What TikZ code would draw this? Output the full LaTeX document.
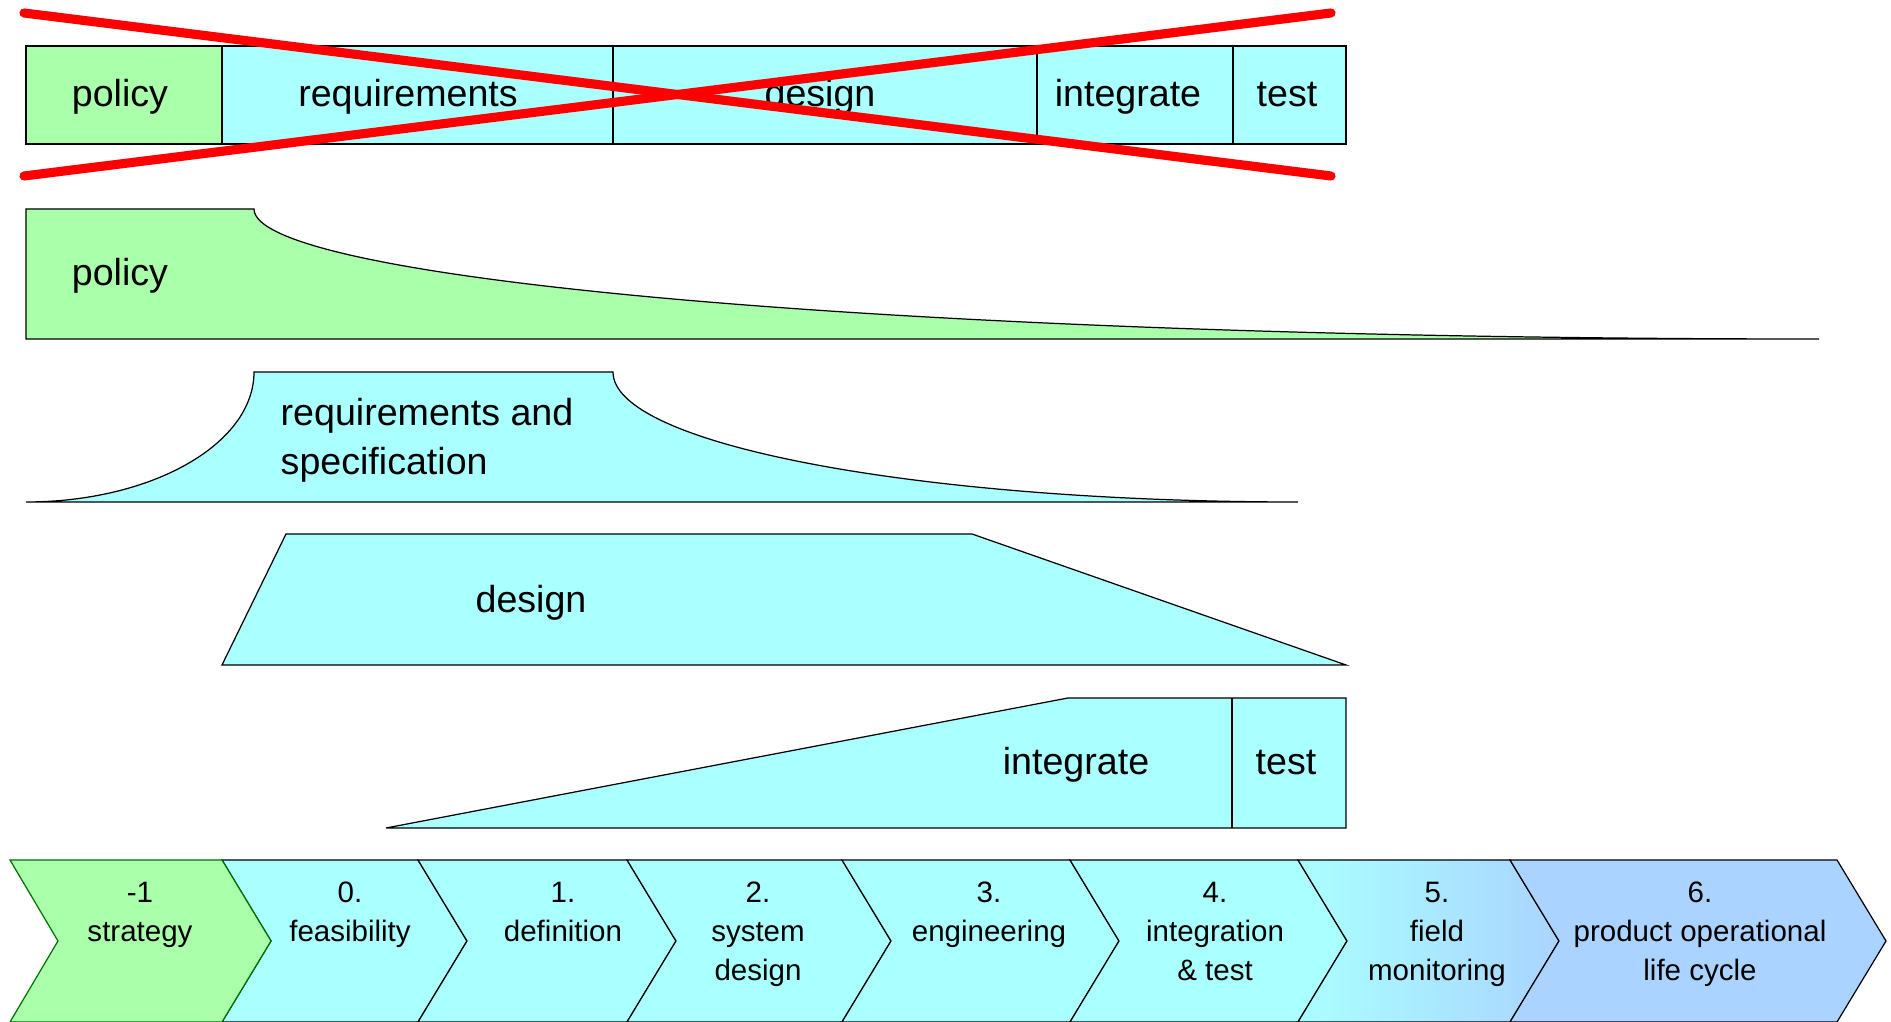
\documentclass[tikz,border=0pt]{standalone}
\usepackage{fontspec}
\setmainfont{Liberation Sans}
\usepackage{tikz}
\definecolor{phasegreen}{HTML}{AAFFAA}
\definecolor{phasecyan}{HTML}{AAFFFF}
\definecolor{phaseblue}{HTML}{AAD4FF}
\newcommand{\bigfont}{\fontsize{10.7}{14.05}\selectfont}
\newcommand{\phasefont}{\fontsize{8.4}{11}\selectfont}

\begin{document}
\begin{tikzpicture}[x=0.1mm, y=-0.1mm,
  outline/.style={draw=black, line width=0.35pt},
  bigtext/.style={inner sep=0pt, font=\bigfont, anchor=base},
  phasetext/.style={inner sep=0pt, font=\phasefont, align=center, anchor=north},
  cross/.style={draw=red, line width=2.6pt, line cap=round}]
  \useasboundingbox (0,0) rectangle (1891,1022);

  % Sequential bar (crossed out)
  \filldraw[outline, fill=phasegreen] (26,46) rectangle (222,144);
  \filldraw[outline, fill=phasecyan] (222,46) rectangle (613,144);
  \filldraw[outline, fill=phasecyan] (613,46) rectangle (1037,144);
  \filldraw[outline, fill=phasecyan] (1037,46) rectangle (1233,144);
  \filldraw[outline, fill=phasecyan] (1233,46) rectangle (1346,144);
  \node[bigtext] (oldpolicy) at (120,107) {policy};
  \node[bigtext] (oldreq) at (408,107) {requirements};
  \node[bigtext] (olddesign) at (820,107) {design};
  \node[bigtext] (oldint) at (1128,107) {integrate};
  \node[bigtext] (oldtest) at (1287,107) {test};

  % Red cross
  \coordinate (crossTL) at (24,13);
  \coordinate (crossBL) at (24,176);
  \coordinate (crossTR) at (1331,13);
  \coordinate (crossBR) at (1331,176);
  \draw[cross] (crossTL) -- (crossBR);
  \draw[cross] (crossBL) -- (crossTR);

  % Policy
  \filldraw[outline, fill=phasegreen] (26,209) -- (254,209)
    .. controls (254,280) and (900,339) .. (1819,339) -- (26,339) -- cycle;
  \node[bigtext] (policy) at (120,286) {policy};

  % Requirements and specification
  \filldraw[outline, fill=phasecyan] (26,502) .. controls (152,502) and (254,444) .. (254,372)
    -- (613,372) .. controls (613,445) and (920,502) .. (1298,502) -- cycle;
  \node[bigtext, anchor=north west, align=left] (reqspec) at (280,390) {\strut requirements and\\specification};

  % Design
  \filldraw[outline, fill=phasecyan] (222,665) -- (286,534) -- (972,534) -- (1346,665) -- cycle;
  \node[bigtext] (design) at (531,613) {design};

  % Integrate and test
  \filldraw[outline, fill=phasecyan] (386,828) -- (1068,698) -- (1346,698) -- (1346,828) -- cycle;
  \draw[outline] (1232,698) -- (1232,828);
  \node[bigtext] (integrate) at (1076,775) {integrate};
  \node[bigtext] (test) at (1286,775) {test};

  % Phases
  \foreach \xl/\xr in {222/418, 418/627, 627/842, 842/1070, 1070/1298}
    \filldraw[outline, fill=phasecyan] (\xl,860) -- (\xr,860) -- (\xr+49,941) -- (\xr,1022)
      -- (\xl,1022) -- (\xl+49,941) -- cycle;
  \shadedraw[outline, left color=phasecyan, right color=phaseblue] (1298,860) -- (1510,860)
    -- (1559,941) -- (1510,1022) -- (1298,1022) -- (1347,941) -- cycle;
  \filldraw[outline, fill=phaseblue] (1510,860) -- (1837,860) -- (1886,941) -- (1837,1022)
    -- (1510,1022) -- (1559,941) -- cycle;
  \filldraw[draw=green!45!black, line width=0.35pt, fill=phasegreen] (10,860) -- (222,860)
    -- (271,941) -- (222,1022) -- (10,1022) -- (58,941) -- cycle;

  \node[phasetext] (strategy) at (140,875) {\strut -1\\strategy};
  \node[phasetext] (feasibility) at (350,875) {\strut 0.\\feasibility};
  \node[phasetext] (definition) at (563,875) {\strut 1.\\definition};
  \node[phasetext] (sysdesign) at (758,875) {\strut 2.\\system\\design};
  \node[phasetext] (engineering) at (989,875) {\strut 3.\\engineering};
  \node[phasetext] (inttest) at (1215,875) {\strut 4.\\integration\\\& test};
  \node[phasetext] (field) at (1437,875) {\strut 5.\\field\\monitoring};
  \node[phasetext] (lifecycle) at (1700,875) {\strut 6.\\product operational\\life cycle};
\end{tikzpicture}
\end{document}
